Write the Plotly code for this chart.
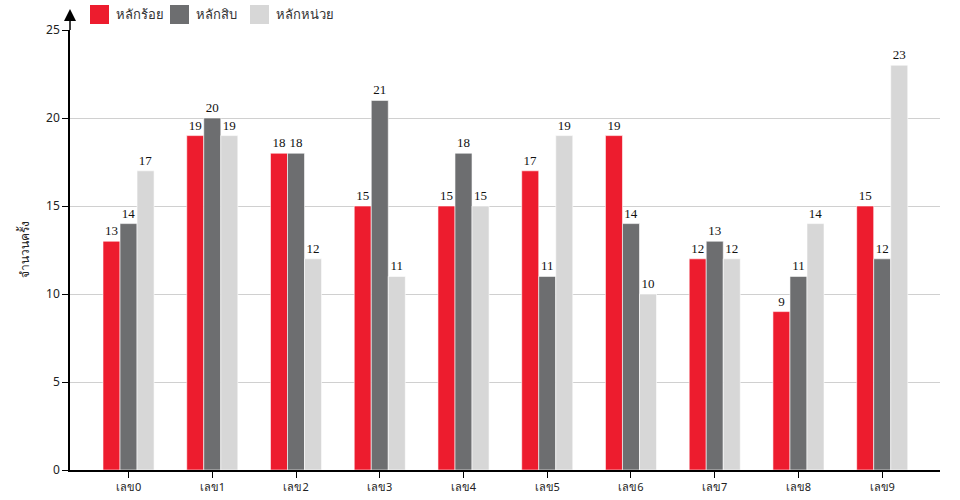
import plotly.graph_objects as go

categories = ["เลข0", "เลข1", "เลข2", "เลข3", "เลข4", "เลข5", "เลข6", "เลข7", "เลข8", "เลข9"]
series_names = ["หลักร้อย", "หลักสิบ", "หลักหน่วย"]
hundreds = [13, 19, 18, 15, 15, 17, 19, 12, 9, 15]
tens = [14, 20, 18, 21, 18, 11, 14, 13, 11, 12]
units = [17, 19, 12, 11, 15, 19, 10, 12, 14, 23]
colors = ["#ED1C2E", "#6D6E70", "#D7D7D7"]
y_ticks = [0, 5, 10, 15, 20, 25]

W, H = 960, 500
ML, MR, MT, MB = 70, 20, 30, 30

fig = go.Figure()
for name, vals, col in zip(series_names, [hundreds, tens, units], colors):
    fig.add_trace(go.Bar(
        x=list(range(len(categories))), y=vals, name=name,
        marker=dict(color=col, line=dict(color="white", width=0.6)),
        text=[str(v) for v in vals], textposition="outside",
        textfont=dict(family="Liberation Serif, Times New Roman, serif", size=13, color="#111"),
        cliponaxis=False, showlegend=False, hoverinfo="skip",
    ))

def px_x(p):
    return (p - ML) / (W - ML - MR)

def px_y(p):
    return 1 - (p - MT) / (H - MT - MB)

shapes = []
annotations = []
leg_x = [90, 170, 250]
for lx, name, col in zip(leg_x, series_names, colors):
    shapes.append(dict(type="rect", xref="paper", yref="paper",
                       x0=px_x(lx), x1=px_x(lx + 19), y0=px_y(24), y1=px_y(5),
                       fillcolor=col, line=dict(width=0)))
    annotations.append(dict(xref="paper", yref="paper", x=px_x(lx + 24), y=px_y(14),
                            text=name, showarrow=False, xanchor="left", yanchor="middle",
                            font=dict(size=13, color="#333", family="Noto Sans, sans-serif")))

# y axis title
annotations.append(dict(xref="paper", yref="paper", x=px_x(24), y=px_y(250),
                        text="จำนวนครั้ง", showarrow=False, textangle=-90,
                        xanchor="center", yanchor="middle",
                        font=dict(size=12, color="#222")))

# y axis extension + arrow
shapes.append(dict(type="line", xref="paper", yref="paper",
                   x0=0, x1=0, y0=1, y1=px_y(18), line=dict(color="black", width=1.5)))
shapes.append(dict(type="path", xref="paper", yref="paper",
                   path=f"M {px_x(64)} {px_y(21)} L {px_x(76)} {px_y(21)} L {px_x(70)} {px_y(9)} Z",
                   fillcolor="black", line=dict(width=0)))

fig.update_layout(
    width=W, height=H,
    margin=dict(l=ML, r=MR, t=MT, b=MB, autoexpand=False),
    plot_bgcolor="white", paper_bgcolor="white",
    barmode="group", bargap=0.39, bargroupgap=0,
    shapes=shapes, annotations=annotations,
    font=dict(family="Noto Sans, DejaVu Sans, sans-serif", size=12, color="#333"),
    xaxis=dict(
        tickmode="array", tickvals=list(range(len(categories))), ticktext=categories,
        range=[-0.699, 9.69], showgrid=False, zeroline=False, automargin=False,
        showline=True, linecolor="black", linewidth=1.5,
        ticks="outside", ticklen=6, tickcolor="black", tickwidth=1,
        tickfont=dict(size=11, color="#222"),
    ),
    yaxis=dict(
        range=[0, 25], tickvals=y_ticks, showgrid=True, gridcolor="#D0D0D0", gridwidth=1,
        zeroline=False, showline=True, linecolor="black", linewidth=1.5, automargin=False,
        ticks="outside", ticklen=6, tickcolor="black",
        tickfont=dict(size=12, color="#222"),
    ),
)

fig.write_html("out.html", config={"displayModeBar": False},
               post_script="document.body.style.margin='0';document.body.style.overflow='hidden';")
